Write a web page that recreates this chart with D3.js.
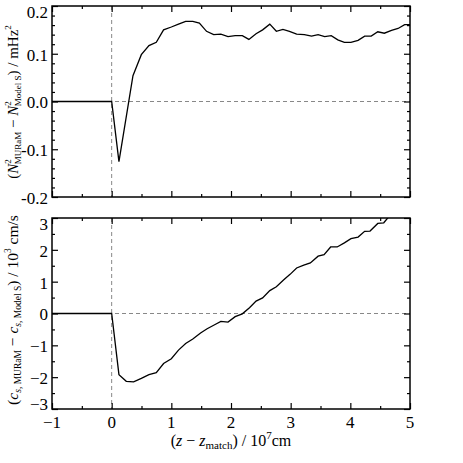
<!DOCTYPE html>
<html><head><meta charset="utf-8">
<script src="https://cdn.jsdelivr.net/npm/d3@7"></script>
<style>body{margin:0;background:#fff}svg{display:block}text{font-family:"Liberation Serif","DejaVu Serif",serif}</style>
</head><body>
<script>
// ---- data ----
const zTop = [-1, 0, 0.122, 0.357, 0.497, 0.625, 0.748, 0.87, 1.0, 1.12, 1.24, 1.36, 1.47, 1.59, 1.71, 1.83, 1.95, 2.07, 2.19, 2.30, 2.42, 2.53, 2.65, 2.76, 2.87, 2.98, 3.10, 3.23, 3.35, 3.46, 3.57, 3.68, 3.79, 3.90, 4.01, 4.13, 4.24, 4.35, 4.46, 4.57, 4.69, 4.80, 4.91, 5.0];
const dN2 = [0, 0, -0.126, 0.054, 0.098, 0.117, 0.124, 0.150, 0.156, 0.162, 0.168, 0.168, 0.164, 0.147, 0.140, 0.141, 0.136, 0.138, 0.138, 0.130, 0.142, 0.150, 0.162, 0.147, 0.151, 0.147, 0.141, 0.140, 0.137, 0.140, 0.136, 0.138, 0.129, 0.124, 0.124, 0.128, 0.137, 0.137, 0.146, 0.143, 0.149, 0.153, 0.161, 0.161];
const zBot = [-1, 0, 0.122, 0.245, 0.368, 0.497, 0.625, 0.748, 0.87, 1.0, 1.12, 1.24, 1.36, 1.49, 1.60, 1.71, 1.83, 1.95, 2.07, 2.19, 2.31, 2.42, 2.53, 2.65, 2.76, 2.88, 2.99, 3.10, 3.22, 3.33, 3.46, 3.56, 3.67, 3.78, 3.90, 4.01, 4.13, 4.24, 4.33, 4.46, 4.56, 4.68, 4.80];
const dCs = [0, 0, -1.92, -2.13, -2.15, -2.04, -1.92, -1.86, -1.57, -1.42, -1.15, -0.94, -0.80, -0.61, -0.48, -0.37, -0.25, -0.27, -0.10, -0.01, 0.18, 0.39, 0.49, 0.72, 0.84, 1.05, 1.23, 1.43, 1.52, 1.59, 1.80, 1.85, 2.09, 2.09, 2.22, 2.35, 2.40, 2.58, 2.59, 2.83, 2.85, 3.12, 3.25];
const xMajor = [-1, 0, 1, 2, 3, 4, 5];
const xMinor = [-0.5, 0.5, 1.5, 2.5, 3.5, 4.5];
const xTickLabels = ["\u22121", "0", "1", "2", "3", "4", "5"];
const topMajor = [-0.2, -0.1, 0, 0.1, 0.2];
const topTickLabels = ["-0.2", "-0.1", "0.0", "0.1", "0.2"];
const topMinor = [-0.18,-0.16,-0.14,-0.12,-0.08,-0.06,-0.04,-0.02,0.02,0.04,0.06,0.08,0.12,0.14,0.16,0.18];
const botMajor = [-3, -2, -1, 0, 1, 2, 3];
const botTickLabels = ["\u22123", "\u22122", "\u22121", "0", "1", "2", "3"];
const botMinor = [-2.5, -1.5, -0.5, 0.5, 1.5, 2.5];

const W = 463, H = 463;
const L = 52, R = 410;
const FONT = "Liberation Serif, DejaVu Serif, serif";
const svg = d3.select("body").append("svg").attr("width", W).attr("height", H)
  .attr("font-family", FONT);

const x = d3.scaleLinear().domain([-1, 5]).range([L, R]);

function panel(top, bottom, yDomain, major, labels, minor, xs, ys, id, clampBottom) {
  const y = d3.scaleLinear().domain(yDomain).range([bottom, top]);
  const g = svg.append("g");
  g.append("clipPath").attr("id", id).append("rect")
    .attr("x", L).attr("y", top).attr("width", R - L).attr("height", bottom - top);
  g.append("line").attr("x1", x(0)).attr("x2", x(0)).attr("y1", top).attr("y2", bottom)
    .attr("stroke", "#888").attr("stroke-width", 1).attr("stroke-dasharray", "4,3");
  g.append("line").attr("x1", L).attr("x2", R).attr("y1", y(0)).attr("y2", y(0))
    .attr("stroke", "#888").attr("stroke-width", 1).attr("stroke-dasharray", "4,3");
  const line = d3.line().x(d => x(d[0])).y(d => y(d[1]));
  g.append("path").datum(d3.zip(xs, ys)).attr("d", line)
    .attr("fill", "none").attr("stroke", "#000").attr("stroke-width", 1.3)
    .attr("clip-path", `url(#${id})`);
  const mk = (axis, tx, ty) => {
    const a = g.append("g").attr("transform", `translate(${tx},${ty})`).call(axis);
    a.select(".domain").remove();
    a.selectAll("text").remove();
    a.selectAll("line").attr("stroke", "#000").attr("stroke-width", 1.2);
  };
  mk(d3.axisBottom(x).tickValues(xMajor).tickSize(-6), 0, bottom);
  mk(d3.axisBottom(x).tickValues(xMinor).tickSize(-3), 0, bottom);
  mk(d3.axisTop(x).tickValues(xMajor).tickSize(-6), 0, top);
  mk(d3.axisTop(x).tickValues(xMinor).tickSize(-3), 0, top);
  mk(d3.axisLeft(y).tickValues(major).tickSize(-6), L, 0);
  mk(d3.axisLeft(y).tickValues(minor).tickSize(-3), L, 0);
  mk(d3.axisRight(y).tickValues(major).tickSize(-6), R, 0);
  mk(d3.axisRight(y).tickValues(minor).tickSize(-3), R, 0);
  g.append("rect").attr("x", L).attr("y", top).attr("width", R - L).attr("height", bottom - top)
    .attr("fill", "none").attr("stroke", "#000").attr("stroke-width", 1.5);
  const lo = top + 6, hi = clampBottom ? bottom - 5 : bottom + 1;
  g.selectAll("text.yl").data(major).enter().append("text")
    .attr("x", L - 4).attr("y", d => Math.max(lo, Math.min(hi, y(d) + 1))).attr("dy", "0.35em")
    .attr("text-anchor", "end").attr("font-size", 17)
    .text((d, i) => labels[i]);
  return y;
}

panel(6, 197, [-0.2, 0.2], topMajor, topTickLabels, topMinor, zTop, dN2, "clipTop", false);
panel(218, 409, [-3, 3], botMajor, botTickLabels, botMinor, zBot, dCs, "clipBot", true);

svg.selectAll("text.xl").data(xMajor).enter().append("text")
  .attr("x", d => x(d)).attr("y", 428).attr("text-anchor", "middle").attr("font-size", 17)
  .text((d, i) => xTickLabels[i]);

// x label
const xl = svg.append("text").attr("x", (L + R) / 2).attr("y", 446)
  .attr("text-anchor", "middle").attr("font-size", 16);
xl.append("tspan").text("(");
xl.append("tspan").attr("font-style", "italic").text("z");
xl.append("tspan").text(" \u2212 ");
xl.append("tspan").attr("font-style", "italic").text("z");
xl.append("tspan").attr("font-size", 11).attr("dy", 3).text("match");
xl.append("tspan").attr("dy", -3).text(") / 10");
xl.append("tspan").attr("font-size", 11).attr("dy", -7).text("7");
xl.append("tspan").attr("dy", 7).text("cm");

// top y label
const yl1 = svg.append("text").attr("transform", "translate(18,102) rotate(-90)")
  .attr("text-anchor", "middle").attr("font-size", 15);
yl1.append("tspan").text("(");
yl1.append("tspan").attr("font-style", "italic").text("N");
yl1.append("tspan").attr("font-size", 9).attr("dy", -7).text("2");
yl1.append("tspan").attr("font-size", 9).attr("dx", -5).attr("dy", 10).text("MURaM");
yl1.append("tspan").attr("dy", -3).text(" \u2212 ");
yl1.append("tspan").attr("font-style", "italic").text("N");
yl1.append("tspan").attr("font-size", 9).attr("dy", -7).text("2");
yl1.append("tspan").attr("font-size", 9).attr("dx", -5).attr("dy", 10).text("Model S");
yl1.append("tspan").attr("dy", -3).text(") / mHz");
yl1.append("tspan").attr("font-size", 9).attr("dy", -7).text("2");

// bottom y label
const yl2 = svg.append("text").attr("transform", "translate(18,310) rotate(-90)")
  .attr("text-anchor", "middle").attr("font-size", 15.5);
yl2.append("tspan").text("(");
yl2.append("tspan").attr("font-style", "italic").text("c");
yl2.append("tspan").attr("font-size", 9.5).attr("dy", 3).attr("font-style", "italic").text("s");
yl2.append("tspan").attr("font-size", 9.5).text(", MURaM");
yl2.append("tspan").attr("dy", -3).text(" \u2212 ");
yl2.append("tspan").attr("font-style", "italic").text("c");
yl2.append("tspan").attr("font-size", 9.5).attr("dy", 3).attr("font-style", "italic").text("s");
yl2.append("tspan").attr("font-size", 9.5).text(", Model S");
yl2.append("tspan").attr("dy", -3).text(") / 10");
yl2.append("tspan").attr("font-size", 9.5).attr("dy", -7).text("3");
yl2.append("tspan").attr("dy", 7).text(" cm/s");
</script>
</body></html>
